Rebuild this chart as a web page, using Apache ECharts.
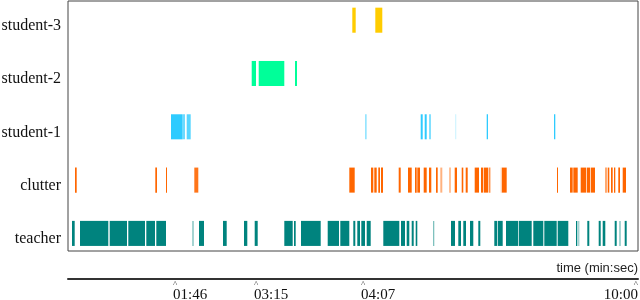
<!DOCTYPE html>
<html>
<head>
<meta charset="utf-8">
<script src="https://cdn.jsdelivr.net/npm/echarts@6/dist/echarts.min.js"></script>
<style>html,body{margin:0;padding:0;background:#fff}#c{width:640px;height:300px}</style>
</head>
<body>
<div id="c"></div>
<script>
// Row names (bottom to top)
var rows = ['teacher', 'clutter', 'student-1', 'student-2', 'student-3'];
var rowColors = ['#00837e', '#ff6600', '#2ecbff', '#00ff99', '#ffcc00'];

// Timeline axis (position units along the time axis) and its labels
var tickPositions = [105, 186, 293, 570];
var tickLabels = ['01:46', '03:15', '04:07', '10:00'];
var axisMax = 570;

// Segments per row: [start, end, opacity]
var teacher = [
  [4,6.7,1],[12,40.3,1],[41.7,59,1],[60.3,77,1],[78.3,87,1],[88.3,98,1],
  [124.3,125.7,0.5],[131,136,1],[155,158.7,1],[176,179.3,1],[186.7,189.7,1],
  [216.3,224.7,1],[226,227.7,1],[233,252.7,1],[259.7,271,1],[272.3,281.3,1],[285.3,287.3,1],[289.3,292,1],[293.3,297,1],[298.7,302.7,1],
  [315.3,331.3,1],[333,337,1],[338.7,341.3,1],[343.7,345.7,1],[347.7,349.3,1],[365,366.3,0.5],[383,387,1],[390.3,393,1],[395.3,398,1],
  [402,405.3,1],[410.3,412.3,1],[426.3,429,1],[429.7,434.7,1],[438,450,1],[450.7,463.7,1],[465.3,475.3,1],[476.3,488.7,1],[489.7,500.3,1],
  [508,509.3,1],[510.3,511.3,0.5],[519.3,521.3,1],[530.7,532.7,1],[534.7,537.3,1],[546.7,548.7,1],[551.3,552.7,0.5],[556.7,558.7,1]
];
var clutter = [
  [7,8.7,1],[87.3,89,1],[98,99,1],[126.3,130.3,0.9],
  [281.3,286.7,1],[303,305.3,1],[306.3,308.7,1],[310.3,312,1],[313,315,1],[330.7,332.7,1],[340,343.7,1],[347,348.7,1],[349.3,352,1],
  [355.7,358.7,1],[361,363.3,1],[368,369.7,1],[372.3,374.3,0.5],[381,383,0.4],[386.7,389,1],[393.7,395.3,1],[397.7,399.7,1],
  [406.7,411,1],[413,415.3,1],[416,420.3,1],[421.3,422.3,1],[432.7,434,0.3],[434,438.7,1],
  [489,490,1],[502,504.7,1],[505.3,509.7,1],[512.7,518,1],[518.7,522,1],[522.7,527,1],
  [537.3,538.7,0.8],[539.7,541.3,1],[543,544.7,1],[546,547.3,1],[550.3,552,1],[554.7,558,1]
];
var student1 = [
  [103,114.7,1],[115.3,116.7,1],[118.7,122.7,0.8],[297,298.7,0.5],[352.7,354.7,1],[356.7,358.7,1],
  [361,363,0.6],[387,388.3,0.2],[418.7,420,1],[486,487.3,1]
];
var student2 = [[183.7,188,1],[190.7,216.3,1],[227,229,1]];
var student3 = [[284.3,287.7,1],[307.3,314.3,1]];

var segmentsByRow = [teacher, clutter, student1, student2, student3];

function renderItem(params, api) {
  var row = api.value(0), s = api.value(1), e = api.value(2), a = api.value(3);
  var p0 = api.coord([s, row]);
  var p1 = api.coord([e, row]);
  var h = api.size([0, 1])[1] * 0.47;
  return {
    type: 'rect',
    shape: { x: p0[0], y: p0[1] - h / 2, width: Math.max(p1[0] - p0[0], 1), height: h },
    style: { fill: rowColors[row], opacity: a }
  };
}

var series = segmentsByRow.map(function (segs, r) {
  return {
    type: 'custom',
    name: rows[r],
    renderItem: renderItem,
    encode: { x: [1, 2], y: 0 },
    data: segs.map(function (sg) { return [r, sg[0], sg[1], sg[2]]; }),
    silent: true
  };
});

var chart = echarts.init(document.getElementById('c'), null, { renderer: 'canvas' });
chart.setOption({
  animation: false,
  grid: { left: 68, right: 2, top: 1, bottom: 49, outerBoundsMode: 'none', containLabel: false, show: true, borderColor: '#444', borderWidth: 1, backgroundColor: 'transparent' },
  xAxis: {
    type: 'value', min: 0, max: axisMax, position: 'bottom', offset: 28,
    axisLine: { show: true, onZero: false, lineStyle: { color: '#333', width: 2 } },
    axisTick: { show: false },
    splitLine: { show: false },
    name: 'time (min:sec)', nameLocation: 'end', nameGap: 0,
    nameTextStyle: { fontFamily: 'Liberation Sans', fontSize: 13, color: '#222', align: 'right', verticalAlign: 'bottom', padding: [0, 0, 4, 0] },
    axisLabel: {
      customValues: tickPositions,
      margin: 2,
      align: 'left',
      alignMaxLabel: 'right',
      formatter: function (v) {
        var i = tickPositions.indexOf(v);
        return '{c|^}\n{t|' + (i >= 0 ? tickLabels[i] : '') + '}';
      },
      rich: {
        c: { fontFamily: 'Liberation Serif', fontSize: 9, lineHeight: 7, color: '#333' },
        t: { fontFamily: 'Liberation Serif', fontSize: 15, lineHeight: 15, color: '#111' }
      }
    }
  },
  yAxis: {
    type: 'value', min: -0.33, max: 4.36,
    axisLine: { show: false }, axisTick: { show: false }, splitLine: { show: false },
    axisLabel: {
      customValues: [0, 1, 2, 3, 4],
      margin: 7,
      verticalAlign: 'top',
      lineHeight: 11,
      fontFamily: 'Liberation Serif', fontSize: 16, color: '#111',
      formatter: function (v) { return rows[Math.round(v)] || ''; }
    }
  },
  series: series
});
</script>
</body>
</html>
